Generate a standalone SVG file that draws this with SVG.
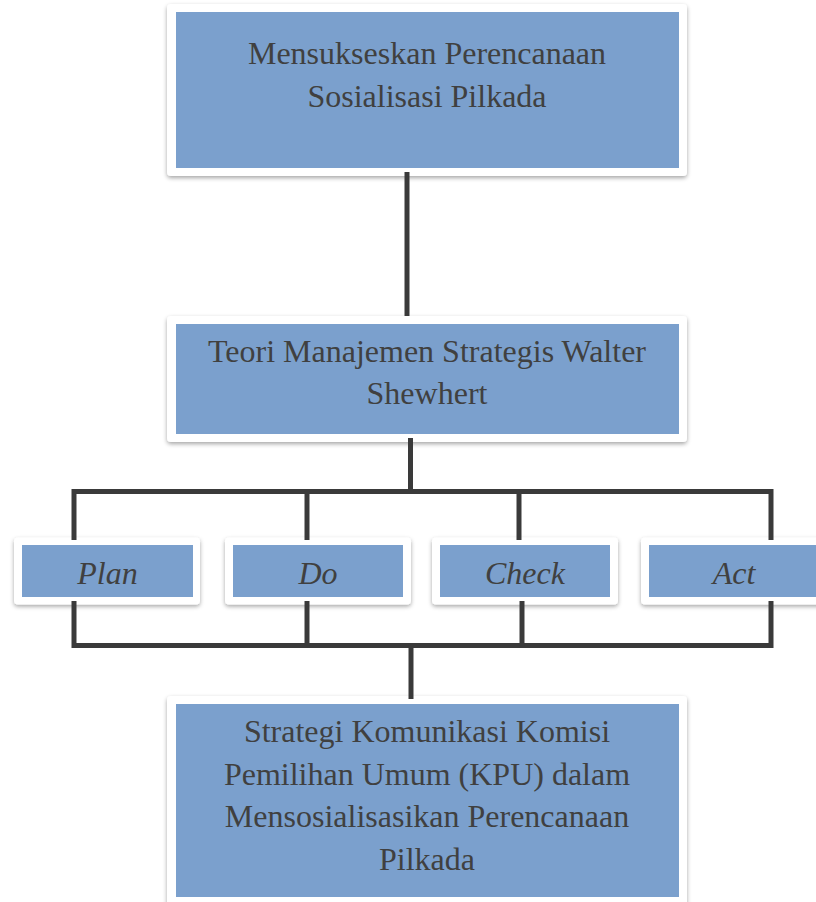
<svg xmlns="http://www.w3.org/2000/svg" width="816" height="902" viewBox="0 0 816 902">
  <defs>
    <filter id="shadow" x="-5%" y="-10%" width="110%" height="125%">
      <feDropShadow dx="0" dy="2" stdDeviation="2.2" flood-color="#000" flood-opacity="0.35"/>
    </filter>
  </defs>
  <style>
    .frame { fill: #ffffff; filter: url(#shadow); }
    .fill { fill: #7ba0cd; }
    .lbl { font-family: "Liberation Serif", "Times New Roman", serif; font-size: 32px; fill: #404040; text-anchor: middle; }
    .it { font-style: italic; }
    .conn { fill: none; stroke: #3a3a3a; stroke-width: 5; stroke-linecap: butt; stroke-linejoin: miter; }
  </style>
  <rect width="816" height="902" fill="#ffffff"/>

  <g id="node-goal">
    <rect class="frame" x="167" y="4" width="520" height="172" rx="4"/>
    <rect class="fill" x="176" y="12" width="503" height="156"/>
    <text class="lbl" x="427" y="64">Mensukseskan Perencanaan</text>
    <text class="lbl" x="427" y="106.5">Sosialisasi Pilkada</text>
  </g>

  <g id="node-theory">
    <rect class="frame" x="167" y="316" width="520" height="126" rx="4"/>
    <rect class="fill" x="176" y="324" width="503" height="110"/>
    <text class="lbl" x="427" y="361.5">Teori Manajemen Strategis Walter</text>
    <text class="lbl" x="427" y="404">Shewhert</text>
  </g>

  <g id="node-plan">
    <rect class="frame" x="14" y="537.5" width="186" height="67" rx="4"/>
    <rect class="fill" x="22" y="545" width="171" height="52"/>
    <text class="lbl it" x="107.5" y="583.5">Plan</text>
  </g>

  <g id="node-do">
    <rect class="frame" x="225" y="537.5" width="186" height="67" rx="4"/>
    <rect class="fill" x="233" y="545" width="170" height="52"/>
    <text class="lbl it" x="318" y="583.5">Do</text>
  </g>

  <g id="node-check">
    <rect class="frame" x="432" y="537.5" width="186" height="67" rx="4"/>
    <rect class="fill" x="440" y="545" width="170" height="52"/>
    <text class="lbl it" x="525" y="583.5">Check</text>
  </g>

  <g id="node-act">
    <rect class="frame" x="641" y="537.5" width="186" height="67" rx="4"/>
    <rect class="fill" x="649" y="545" width="171" height="52"/>
    <text class="lbl it" x="734" y="583.5">Act</text>
  </g>

  <g id="node-strategy">
    <rect class="frame" x="167" y="696" width="520" height="215" rx="4"/>
    <rect class="fill" x="176" y="704" width="503" height="193"/>
    <text class="lbl" x="427" y="742">Strategi Komunikasi Komisi</text>
    <text class="lbl" x="427" y="784.5">Pemilihan Umum (KPU) dalam</text>
    <text class="lbl" x="427" y="827">Mensosialisasikan Perencanaan</text>
    <text class="lbl" x="427" y="869.5">Pilkada</text>
  </g>

  <g id="connectors">
    <path class="conn" d="M407,172 V316"/>
    <path class="conn" d="M410.5,438 V491.5"/>
    <path class="conn" d="M74,540 V491.5 H771 V540"/>
    <path class="conn" d="M307,491.5 V540"/>
    <path class="conn" d="M519,491.5 V540"/>
    <path class="conn" d="M74,601 V645.5 H771 V601"/>
    <path class="conn" d="M307,601 V645.5"/>
    <path class="conn" d="M522,601 V645.5"/>
    <path class="conn" d="M411,645.5 V699"/>
  </g>
</svg>
